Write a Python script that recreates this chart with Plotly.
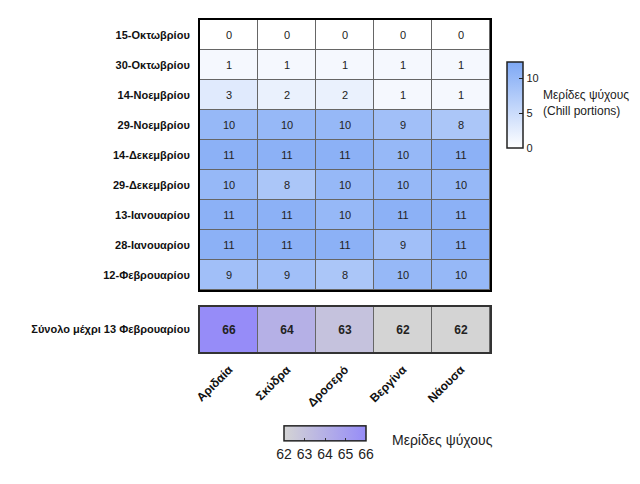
import plotly.graph_objects as go

sites = ["Αριδαία", "Σκύδρα", "Δροσερό", "Βεργίνα", "Νάουσα"]
dates = ["15-Οκτωβρίου", "30-Οκτωβρίου", "14-Νοεμβρίου", "29-Νοεμβρίου",
         "14-Δεκεμβρίου", "29-Δεκεμβρίου", "13-Ιανουαρίου", "28-Ιανουαρίου",
         "12-Φεβρουαρίου"]
chill = [
    [0, 0, 0, 0, 0],
    [1, 1, 1, 1, 1],
    [3, 2, 2, 1, 1],
    [10, 10, 10, 9, 8],
    [11, 11, 11, 10, 11],
    [10, 8, 10, 10, 10],
    [11, 11, 10, 11, 11],
    [11, 11, 11, 9, 11],
    [9, 9, 8, 10, 10],
]
total_label = ["Σύνολο μέχρι 13 Φεβρουαρίου"]
totals = [66, 64, 63, 62, 62]

FONT = "Liberation Sans, Arial, sans-serif"

fig = go.Figure()

fig.add_trace(go.Heatmap(
    z=chill, x=sites, y=dates,
    xaxis="x", yaxis="y",
    colorscale=[[0, "rgb(255,255,255)"], [1, "rgb(126,168,245)"]],
    zmin=0, zmax=12.3,
    xgap=1, ygap=1,
    texttemplate="%{z}",
    textfont=dict(family=FONT, size=11, color="#222"),
    colorbar=dict(
        x=0.792, xanchor="left", xpad=0, y=0.783, yanchor="middle", ypad=0,
        len=0.178, lenmode="fraction", thickness=16,
        outlinecolor="#222", outlinewidth=1.5,
        tickvals=[0, 5, 10], ticks="inside", ticklen=4, tickcolor="#222",
        tickfont=dict(family=FONT, size=11, color="#222"),
    ),
))

fig.add_trace(go.Heatmap(
    z=[totals], x=sites, y=total_label,
    xaxis="x2", yaxis="y2",
    colorscale=[[0, "rgb(212,212,212)"], [1, "rgb(150,140,248)"]],
    zmin=62, zmax=66,
    xgap=1, ygap=0,
    texttemplate="<b>%{z}</b>",
    textfont=dict(family=FONT, size=12, color="#222"),
    colorbar=dict(
        orientation="h",
        x=0.508, xanchor="center", xpad=0, y=0.0795, yanchor="middle", ypad=0,
        len=0.128, lenmode="fraction", thickness=15,
        outlinecolor="#222", outlinewidth=1.5,
        tickvals=[62, 63, 64, 65, 66], ticks="inside", ticklen=3, tickcolor="#333",
        tickangle=0,
        tickfont=dict(family=FONT, size=14, color="#222"),
    ),
))

fig.add_annotation(
    text="Μερίδες ψύχους<br>(Chill portions)", xref="paper", yref="paper",
    x=0.845, y=0.788, xanchor="left", yanchor="middle", align="left",
    showarrow=False, font=dict(family=FONT, size=12, color="#222"),
)
fig.add_annotation(
    text="Μερίδες ψύχους", xref="paper", yref="paper",
    x=0.609, y=0.091, xanchor="left", yanchor="middle", showarrow=False,
    font=dict(family=FONT, size=14, color="#222"),
)

fig.update_layout(
    width=640, height=484,
    margin=dict(l=0, r=0, t=0, b=0, autoexpand=False),
    paper_bgcolor="white",
    plot_bgcolor="#666",
    font=dict(family=FONT, color="#222"),
    xaxis=dict(domain=[0.3125, 0.7656], anchor="y", showticklabels=False,
               showgrid=False, zeroline=False, showline=True, mirror=True,
               linecolor="black", linewidth=2, ticks=""),
    yaxis=dict(domain=[0.4008, 0.9587], anchor="x", autorange="reversed",
               showgrid=False, zeroline=False, showline=True, mirror=True,
               linecolor="black", linewidth=2, ticks="",
               tickfont=dict(family=FONT, size=11, color="#111"),
               ticklabelstandoff=6),
    xaxis2=dict(domain=[0.3125, 0.7656], anchor="y2",
                showgrid=False, zeroline=False, showline=True, mirror=True,
                linecolor="#333", linewidth=2, ticks="",
                tickangle=-45, ticklabelstandoff=4,
                tickfont=dict(family=FONT, size=12, color="#111"),
                tickprefix="<b>", ticksuffix="</b>"),
    yaxis2=dict(domain=[0.2727, 0.3657], anchor="x2",
                showgrid=False, zeroline=False, showline=True, mirror=True,
                linecolor="#333", linewidth=2, ticks="",
                tickfont=dict(family=FONT, size=11, color="#111"),
                ticklabelstandoff=6),
)

fig.update_yaxes(tickprefix="<b>", ticksuffix="</b>")

fig.write_html("out.html", config={"displayModeBar": False},
               post_script="document.body.style.margin='0px';")
